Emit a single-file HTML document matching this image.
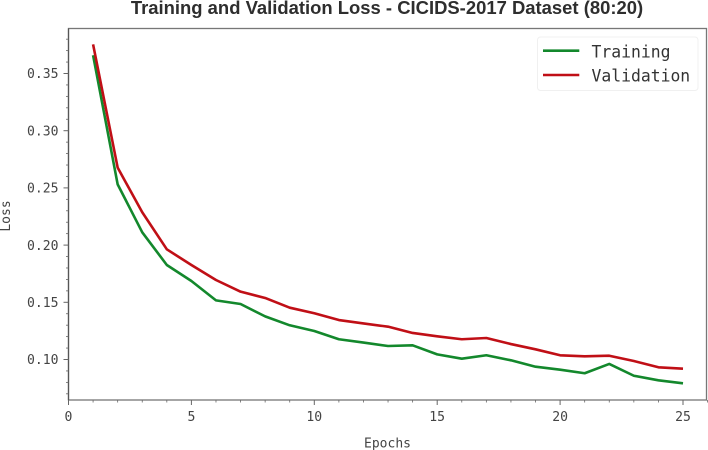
<!DOCTYPE html>
<html lang="en">
<head>
<meta charset="utf-8">
<title>Training and Validation Loss</title>
<style>
html,body{margin:0;padding:0;background:#fff;width:708px;height:450px;overflow:hidden}
svg{display:block}
.tick{font-family:"DejaVu Sans Mono","Liberation Mono",monospace;font-size:13.1px;fill:#444}
.axis-title{font-family:"DejaVu Sans Mono","Liberation Mono",monospace;font-size:13px;fill:#444}
.legend-text{font-family:"DejaVu Sans Mono","Liberation Mono",monospace;font-size:16.4px;fill:#333}
</style>
</head>
<body>
<svg id="chart" width="708" height="450" viewBox="0 0 708 450" xmlns="http://www.w3.org/2000/svg">
<text x="387" y="14" text-anchor="middle" font-family="'Liberation Sans',sans-serif" font-weight="700" font-size="18.45px" fill="#2e2e2e">Training and Validation Loss - CICIDS-2017 Dataset (80:20)</text>
<rect x="68.5" y="28.5" width="638" height="371.5" fill="#fff" stroke="#777" stroke-width="1.3"></rect>
<line x1="68.5" x2="68.5" y1="28.5" y2="400" stroke="#555" stroke-width="1.2"></line>
<g id="ticks"></g>
<g id="series"></g>
<text class="axis-title" x="387.5" y="447.5" text-anchor="middle">Epochs</text>
<text class="axis-title" transform="translate(10,216) rotate(-90)" text-anchor="middle">Loss</text>
<g>
<rect x="537.5" y="37" width="160.5" height="53.5" rx="3" fill="#fff" stroke="#f0f0f0" stroke-width="1"></rect>
<line x1="543" x2="579.3" y1="50.7" y2="50.7" stroke="#13882c" stroke-width="2.6"></line>
<text class="legend-text" x="591.5" y="57.5">Training</text>
<line x1="543" x2="579.3" y1="75" y2="75" stroke="#c00f16" stroke-width="2.6"></line>
<text class="legend-text" x="591.5" y="81.5">Validation</text>
</g>
</svg>
<script>
const epochs = [1,2,3,4,5,6,7,8,9,10,11,12,13,14,15,16,17,18,19,20,21,22,23,24,25];
const trainingLoss = [0.366,0.2531,0.2112,0.1826,0.1686,0.1517,0.1485,0.1377,0.1299,0.1249,0.1177,0.1148,0.1118,0.1124,0.1045,0.1007,0.1037,0.0993,0.0937,0.0911,0.088,0.0961,0.0858,0.0818,0.0792];
const validationLoss = [0.3755,0.2677,0.2287,0.1963,0.1826,0.1695,0.1593,0.1538,0.1453,0.1404,0.1345,0.1315,0.1287,0.1232,0.1203,0.1177,0.1188,0.1135,0.1089,0.1037,0.1028,0.1033,0.0987,0.0932,0.092];
const xTickLabels = [0,5,10,15,20,25];
const yTickLabels = ['0.10','0.15','0.20','0.25','0.30','0.35'];
const xMinorTicks = [1,2,3,4,6,7,8,9,11,12,13,14,16,17,18,19,21,22,23,24,26];
const yMinorTicks = [0.07,0.08,0.09,0.11,0.12,0.13,0.14,0.16,0.17,0.18,0.19,0.21,0.22,0.23,0.24,0.26,0.27,0.28,0.29,0.31,0.32,0.33,0.34,0.36,0.37,0.38];

const NS = 'http://www.w3.org/2000/svg';
function xScale(v){ return 68.5 + v * 24.58; }
function yScale(v){ return 359.5 - (v - 0.1) * 1144; }
const ticks = document.getElementById('ticks');
const seriesGroup = document.getElementById('series');

function tickLine(x1,y1,x2,y2,w){
  const l = document.createElementNS(NS,'line');
  l.setAttribute('x1',x1); l.setAttribute('y1',y1);
  l.setAttribute('x2',x2); l.setAttribute('y2',y2);
  l.setAttribute('stroke','#666'); l.setAttribute('stroke-width',w);
  
  
  ticks.appendChild(l);
}
function tickText(x,y,anchor,str){
  const t = document.createElementNS(NS,'text');
  t.setAttribute('x',x); t.setAttribute('y',y);
  t.setAttribute('text-anchor',anchor);
  t.setAttribute('class','tick');
  
  
  t.textContent = str;
  ticks.appendChild(t);
}
xTickLabels.forEach(v => {
  const x = xScale(v);
  tickLine(x,400,x,405,1);
  tickText(x,421,'middle',String(v));
});
xMinorTicks.forEach(v => {
  const x = xScale(v);
  tickLine(x,400,x,402.5,0.8);
});
yTickLabels.forEach(s => {
  const y = yScale(parseFloat(s));
  tickLine(63.5,y,68.5,y,1);
  tickText(58.5,y+4.7,'end',s);
});
yMinorTicks.forEach(v => {
  const y = yScale(v);
  tickLine(66,y,68.5,y,0.8);
});
function drawSeries(values,color,name){
  const p = document.createElementNS(NS,'polyline');
  p.setAttribute('points',values.map((v,i) => xScale(epochs[i]) + ',' + yScale(v)).join(' '));
  p.setAttribute('fill','none');
  p.setAttribute('stroke',color);
  p.setAttribute('stroke-width','2.6');
  p.setAttribute('stroke-linejoin','round');
  
  
  seriesGroup.appendChild(p);
}
drawSeries(trainingLoss,'#13882c','training-line');
drawSeries(validationLoss,'#c00f16','validation-line');
</script>
</body>
</html>
